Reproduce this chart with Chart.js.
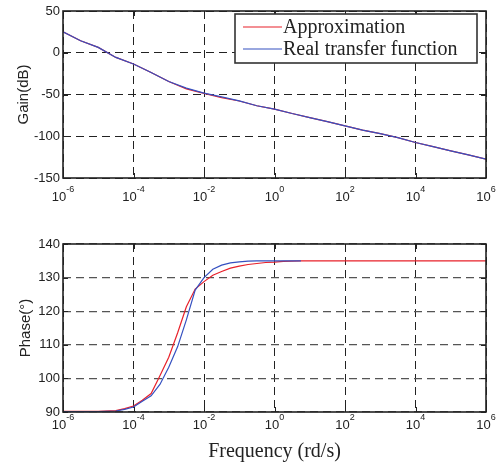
<!DOCTYPE html>
<html>
<head>
<meta charset="utf-8">
<script src="https://cdn.jsdelivr.net/npm/chart.js@4.4.1/dist/chart.umd.min.js"></script>
<style>
  html, body { margin: 0; padding: 0; background: #fff; }
  #wrap { position: relative; width: 500px; height: 467px; }
  #gainChart { position: absolute; left: 0; top: 0; }
  #phaseChart { position: absolute; left: 0; top: 230px; }
</style>
</head>
<body>
<div id="wrap">
  <canvas id="gainChart" width="500" height="230"></canvas>
  <canvas id="phaseChart" width="500" height="237"></canvas>
</div>
<script>
// --- data ---
const seriesNames = ['Approximation', 'Real transfer function'];
const seriesColors = ['#e8202a', '#3550c0'];

const freqTicks = [1e-6, 1e-4, 1e-2, 1, 1e2, 1e4, 1e6];

// gain plot (dB), half-decade steps
const gainFreq = [1e-6, 3.16e-6, 1e-5, 3.16e-5, 1e-4, 3.16e-4, 1e-3, 3.16e-3, 1e-2, 3.16e-2, 0.1, 0.316, 1, 3.16, 10, 31.6, 100, 316, 1000, 3160, 1e4, 3.16e4, 1e5, 3.16e5, 1e6];
const gainApprox = [25, 14.4, 6.4, -5.6, -13.5, -23.6, -34.4, -43.2, -48.7, -53.8, -57.8, -63.5, -67.5, -72.8, -77.6, -82.4, -87.5, -92.7, -96.8, -101.6, -107.5, -112.4, -117.5, -122.3, -127.5];
const gainReal   = [25, 14.4, 6.4, -5.6, -13.5, -23.6, -34.4, -42.4, -48.4, -52.8, -57.6, -63.5, -67.5, -72.8, -77.6, -82.4, -87.5, -92.7, -96.8, -101.6, -107.5, -112.4, -117.5, -122.3, -127.5];
const gainTicks = [-150, -100, -50, 0, 50];

// phase plot (deg)
const phaseFreq = [1e-6, 1e-5, 3.16e-5, 5.62e-5, 1e-4, 1.78e-4, 3.16e-4, 5.62e-4, 1e-3, 1.78e-3, 3.16e-3, 5.62e-3, 1e-2, 1.78e-2, 3.16e-2, 5.62e-2, 0.1, 0.178, 0.316, 0.562, 1, 1.78, 3.16, 5.62, 10, 100, 1000, 1e4, 1e5, 1e6];
const phaseApprox = [90.2, 90.2, 90.4, 91.0, 91.8, 93.5, 95.5, 100.8, 106.3, 113.5, 121.3, 126.6, 128.8, 130.7, 131.8, 132.8, 133.4, 133.9, 134.2, 134.5, 134.6, 134.8, 134.9, 135, 135, 135, 135, 135, 135, 135];
const phaseReal   = [90.1, 90.1, 90.3, 90.8, 91.5, 93.2, 94.8, 98.2, 103.3, 109.4, 117.4, 126.3, 130.0, 132.5, 133.7, 134.4, 134.7, 134.9, 135, 135, 135, 135, 135, 135, null, null, null, null, null, null];
const phaseTicks = [90, 100, 110, 120, 130, 140];

const sans = '"Liberation Sans", Arial, sans-serif';
const serif = '"Liberation Serif", "Times New Roman", serif';

function toPoints(xs, ys) {
    return xs.map((x, i) => ({ x: x, y: ys[i] }));
}

// box round the plot area with small inward ticks (matlab style)
const framePlugin = {
    id: 'frame',
    afterDatasetsDraw(chart) {
        const ctx = chart.ctx;
        const a = chart.chartArea;
        const xs = chart.scales.x, ys = chart.scales.y;
        ctx.save();
        ctx.strokeStyle = '#222';
        ctx.lineWidth = 1;
        ctx.beginPath();
        xs.ticks.forEach(t => {
            const px = Math.round(xs.getPixelForValue(t.value)) + 0.5;
            ctx.moveTo(px, a.bottom); ctx.lineTo(px, a.bottom - 5);
            ctx.moveTo(px, a.top); ctx.lineTo(px, a.top + 5);
        });
        ys.ticks.forEach(t => {
            const py = Math.round(ys.getPixelForValue(t.value)) + 0.5;
            ctx.moveTo(a.left, py); ctx.lineTo(a.left + 5, py);
            ctx.moveTo(a.right, py); ctx.lineTo(a.right - 5, py);
        });
        ctx.stroke();
        ctx.lineWidth = 1.6;
        ctx.strokeRect(a.left, a.top, a.right - a.left, a.bottom - a.top);
        ctx.restore();
    }
};

// "10" with a raised exponent under each decade tick
const expLabelPlugin = {
    id: 'expLabels',
    afterDraw(chart, args, opts) {
        const ctx = chart.ctx;
        const xs = chart.scales.x;
        const y = chart.chartArea.bottom + opts.offset;
        ctx.save();
        ctx.fillStyle = '#222';
        ctx.textAlign = 'left';
        ctx.textBaseline = 'middle';
        xs.ticks.forEach(t => {
            const px = xs.getPixelForValue(t.value);
            const exp = String(Math.round(Math.log10(t.value)));
            ctx.font = '13px ' + sans;
            const wb = ctx.measureText('10').width;
            ctx.font = '9px ' + sans;
            const we = ctx.measureText(exp).width;
            const x0 = px - (wb + we) / 2;
            ctx.font = '13px ' + sans;
            ctx.fillText('10', x0, y);
            ctx.font = '9px ' + sans;
            ctx.fillText(exp, x0 + wb, y - 7);
        });
        ctx.restore();
    }
};

// boxed legend in the upper right of the gain plot
const boxLegendPlugin = {
    id: 'boxLegend',
    afterDraw(chart, args, opts) {
        if (!opts.show) return;
        const ctx = chart.ctx;
        const bx = 235, by = 14, bw = 242, bh = 49;
        ctx.save();
        ctx.fillStyle = '#fff';
        ctx.fillRect(bx, by, bw, bh);
        ctx.strokeStyle = '#333';
        ctx.lineWidth = 1.6;
        ctx.strokeRect(bx, by, bw, bh);
        ctx.font = '20px ' + serif;
        ctx.textAlign = 'left';
        ctx.textBaseline = 'middle';
        chart.data.datasets.forEach((ds, i) => {
            const ly = by + 13 + i * 22;
            ctx.strokeStyle = ds.borderColor;
            ctx.lineWidth = 1.2;
            ctx.beginPath();
            ctx.moveTo(bx + 8, ly); ctx.lineTo(bx + 47, ly);
            ctx.stroke();
            ctx.fillStyle = '#222';
            ctx.fillText(ds.label, bx + 48, ly + 1);
        });
        ctx.restore();
    }
};

function makeDatasets(xs, approx, real) {
    return [
        { label: seriesNames[0], data: toPoints(xs, approx), borderColor: seriesColors[0], borderWidth: 1.2, pointRadius: 0, tension: 0, order: 1 },
        { label: seriesNames[1], data: toPoints(xs, real), borderColor: seriesColors[1], borderWidth: 1.2, pointRadius: 0, tension: 0, order: 0, spanGaps: false }
    ];
}

function makeOptions(cfg) {
    return {
        responsive: false,
        animation: false,
        events: [],
        layout: { padding: { left: 0, right: 14, top: cfg.padTop, bottom: 0 } },
        plugins: {
            legend: { display: false },
            tooltip: { enabled: false },
            expLabels: { offset: cfg.labelOffset },
            boxLegend: { show: cfg.legend }
        },
        scales: {
            x: {
                type: 'logarithmic',
                min: 1e-6, max: 1e6,
                afterBuildTicks: s => { s.ticks = freqTicks.map(v => ({ value: v })); },
                afterFit: s => { s.height = cfg.xHeight; },
                ticks: { display: false },
                grid: { color: '#222', lineWidth: 1, drawTicks: false },
                border: { display: false, dash: [8, 5] },
                title: cfg.xTitle
            },
            y: {
                min: cfg.yTicks[0], max: cfg.yTicks[cfg.yTicks.length - 1],
                afterBuildTicks: s => { s.ticks = cfg.yTicks.map(v => ({ value: v })); },
                afterFit: s => { s.width = 63; },
                ticks: { color: '#222', padding: 3, font: { family: sans, size: 13 }, callback: v => String(v) },
                grid: { color: cfg.yGrid, lineWidth: cfg.yGridWidth, drawTicks: false },
                border: { display: false, dash: [8, 5] },
                title: { display: true, text: cfg.yTitle, color: '#222', font: { family: sans, size: 15 }, padding: { top: cfg.yTitlePad, bottom: 0 } }
            }
        }
    };
}

new Chart(document.getElementById('gainChart'), {
    type: 'line',
    data: { datasets: makeDatasets(gainFreq, gainApprox, gainReal) },
    options: makeOptions({
        padTop: 11, xHeight: 52, labelOffset: 19, legend: true,
        yTicks: gainTicks, yTitle: 'Gain(dB)', yTitlePad: 15, yGrid: '#222', yGridWidth: 1,
        xTitle: { display: false }
    }),
    plugins: [framePlugin, expLabelPlugin, boxLegendPlugin]
});

new Chart(document.getElementById('phaseChart'), {
    type: 'line',
    data: { datasets: makeDatasets(phaseFreq, phaseApprox, phaseReal) },
    options: makeOptions({
        padTop: 14, xHeight: 55, labelOffset: 13, legend: false,
        yTicks: phaseTicks, yTitle: 'Phase(°)', yTitlePad: 17, yGrid: '#555', yGridWidth: 1.3,
        xTitle: { display: true, text: 'Frequency (rd/s)', color: '#222', font: { family: serif, size: 20 }, padding: { top: 0, bottom: 3 } }
    }),
    plugins: [framePlugin, expLabelPlugin, boxLegendPlugin]
});
</script>
</body>
</html>
